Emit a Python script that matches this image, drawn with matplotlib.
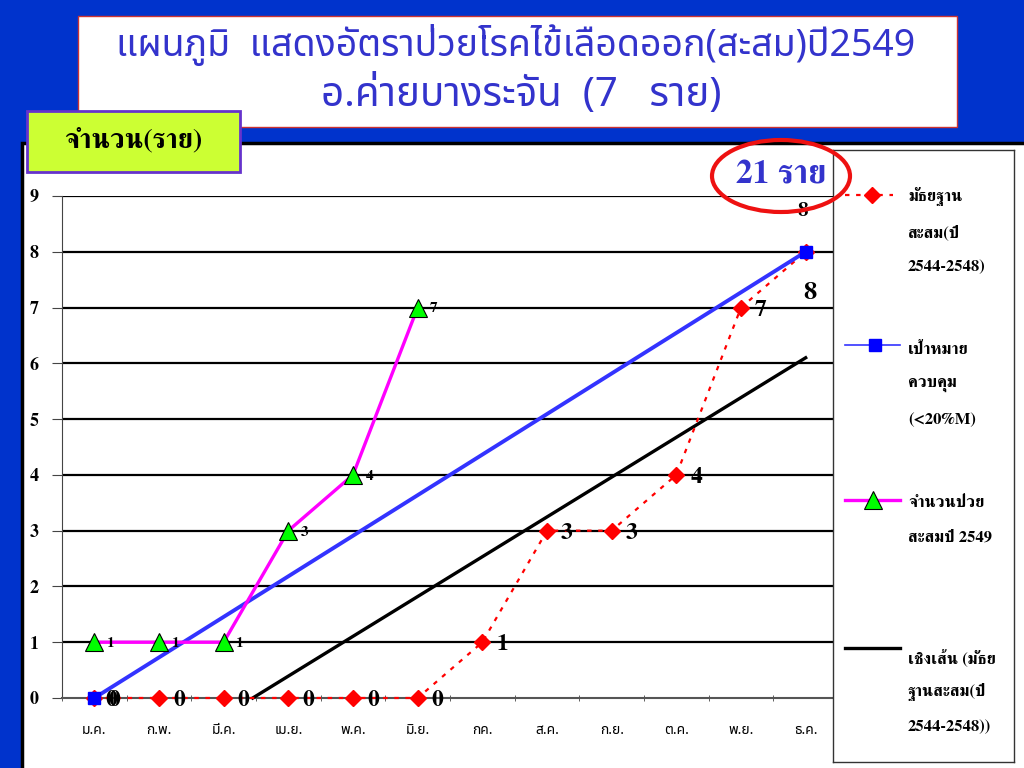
import matplotlib
matplotlib.use("Agg")
import matplotlib.pyplot as plt
from matplotlib.patches import Rectangle, Ellipse

months = ["ม.ค.", "ก.พ.", "มี.ค.", "เม.ย.", "พ.ค.", "มิ.ย.",
          "กค.", "ส.ค.", "ก.ย.", "ต.ค.", "พ.ย.", "ธ.ค."]
median_cum = [0, 0, 0, 0, 0, 0, 1, 3, 3, 4, 7, 8]   # มัธยฐานสะสม 2544-2548
target_idx = [0, 11]
target_val = [0, 8]                                # เป้าหมาย <20%M
cases_2549 = [1, 1, 1, 3, 4, 7]                    # ม.ค. - มิ.ย.
trend_x = [2.45, 11]
trend_y = [0, 6.1]

title_1 = "แผนภูมิ  แสดงอัตราป่วยโรคไข้เลือดออก(สะสม)ปี2549"
title_2 = "อ.ค่ายบางระจัน  (7   ราย)"
legend_text = [
    ["มัธยฐาน", "สะสม(ปี", "2544-2548)"],
    ["เป้าหมาย", "ควบคุม", "(<20%M)"],
    ["จำนวนป่วย", "สะสมปี 2549"],
    ["เชิงเส้น (มัธย", "ฐานสะสม(ปี", "2544-2548))"],
]

plt.rcParams["font.family"] = ["FreeSerif", "Liberation Serif", "DejaVu Sans"]
SANS_TH = ["Noto Sans Thai", "DejaVu Sans"]

BLUE_BG = "#0033cc"
TITLE_C = "#3333cc"


def fx(px):
    return px / 1024


def fy(py):
    return 1 - py / 768


fig = plt.figure(figsize=(10.24, 7.68), dpi=100, facecolor=BLUE_BG)

# white panel and title box
fig.patches.append(Rectangle((fx(22), -0.01), 1.0, fy(143) + 0.01, transform=fig.transFigure,
                             facecolor="white", edgecolor="black", lw=2.5, zorder=-5))
fig.patches.append(Rectangle((fx(78), fy(127)), fx(957) - fx(78), fy(16) - fy(127),
                             transform=fig.transFigure, facecolor="white",
                             edgecolor="#cc3333", lw=1, zorder=-4))
fig.text(fx(516), fy(45), title_1, ha="center", va="center", fontsize=27,
         color=TITLE_C, family=SANS_TH)
fig.text(fx(521), fy(96), title_2, ha="center", va="center", fontsize=29,
         color=TITLE_C, family=SANS_TH)

fig.patches.append(Rectangle((fx(27), fy(172)), fx(240) - fx(27), fy(111) - fy(172),
                             transform=fig.transFigure, facecolor="#ccff33",
                             edgecolor="#6633cc", lw=2, zorder=2))
fig.text(fx(133), fy(141), "จำนวน(ราย)", ha="center", va="center", fontsize=20,
         fontweight="bold", color="black", zorder=3)

# main axes
ax = fig.add_axes([fx(62), fy(698), fx(838) - fx(62), fy(196) - fy(698)])
ax.set_facecolor("white")
x = list(range(len(months)))
ax.set_xlim(-0.5, 11.5)
ax.set_ylim(0, 9)
ax.set_yticks(range(10))
ax.set_yticklabels([str(i) for i in range(10)], fontsize=13, fontweight="bold")
ax.set_xticks(x)
ax.set_xticklabels(months, fontsize=10, family=SANS_TH)
ax.set_xticks([i - 0.5 for i in range(13)], minor=True)
ax.tick_params(axis="x", which="major", length=0, pad=18)
ax.tick_params(axis="x", which="minor", length=4, direction="inout", color="#444444")
ax.tick_params(axis="y", length=7, pad=10, color="#444444")
for y in range(1, 10):
    ax.axhline(y, color="black", lw=1.6, zorder=1)
for s in ["top", "right"]:
    ax.spines[s].set_visible(False)
ax.spines["left"].set_color("#444444")
ax.spines["bottom"].set_color("#555555")
ax.spines["bottom"].set_linewidth(1.5)

ax.plot(trend_x, trend_y, color="black", lw=2.4, zorder=3, clip_on=False)
ax.plot(x, median_cum, color="red", lw=1.6, ls=(0, (2, 3)), marker="D",
        markersize=8, markerfacecolor="red", markeredgecolor="red", zorder=4,
        clip_on=False)
ax.plot(target_idx, target_val, color="#3333ff", lw=2.8, marker="s", markersize=8,
        markerfacecolor="#0000ff", markeredgecolor="#0000ff", zorder=5, clip_on=False)
ax.plot(x[:len(cases_2549)], cases_2549, color="#ff00ff", lw=2.4, marker="^",
        markersize=13, markerfacecolor="#00ff00", markeredgecolor="black",
        markeredgewidth=0.8, zorder=6, clip_on=False)

for i, v in enumerate(median_cum):
    if i == len(median_cum) - 1:
        ax.annotate(str(v), (i, v), xytext=(3, -30), textcoords="offset points",
                    ha="center", va="center", fontsize=19, fontweight="bold", zorder=7)
    else:
        ax.annotate(str(v), (i, v), xytext=(10, -2), textcoords="offset points",
                    ha="left", va="center", fontsize=17, fontweight="bold", zorder=7)
ax.annotate(str(target_val[0]), (target_idx[0], target_val[0]), xytext=(8, -2),
            textcoords="offset points", ha="left", va="center", fontsize=17,
            fontweight="bold", zorder=7)
ax.annotate(str(target_val[1]), (target_idx[1], target_val[1]), xytext=(-2, 29),
            textcoords="offset points", ha="center", va="center", fontsize=15,
            fontweight="bold", zorder=7)
for i, v in enumerate(cases_2549):
    ax.annotate(str(v), (i, v), xytext=(9, -1), textcoords="offset points",
                ha="left", va="center", fontsize=11, fontweight="bold", zorder=7)

# legend panel
lax = fig.add_axes([fx(833), fy(762), fx(1014) - fx(833), fy(150) - fy(762)])
lax.set_xlim(833, 1014)
lax.set_ylim(762, 150)
lax.set_xticks([])
lax.set_yticks([])
lax.set_facecolor("white")
for s in lax.spines.values():
    s.set_color("#333333")
    s.set_linewidth(1)

key_y = [195, 345, 500, 648]
lax.plot([845, 893], [key_y[0]] * 2, color="red", lw=1.6, ls=(0, (2, 3)))
lax.plot([872], [key_y[0]], marker="D", markersize=8, color="red")
lax.plot([845, 900], [key_y[1]] * 2, color="#3333ff", lw=1.2)
lax.plot([875], [key_y[1]], marker="s", markersize=8, color="#0000ff")
lax.plot([845, 900], [key_y[2]] * 2, color="#ff00ff", lw=2.4)
lax.plot([873], [key_y[2]], marker="^", markersize=13, markerfacecolor="#00ff00",
         markeredgecolor="black", markeredgewidth=0.8)
lax.plot([845, 900], [key_y[3]] * 2, color="black", lw=2.4)

text_y0 = [197, 350, 503, 657]
for lines, y0 in zip(legend_text, text_y0):
    for k, line in enumerate(lines):
        lax.text(908, y0 + 35 * k, line, ha="left", va="center", fontsize=12,
                 fontweight="bold")

# "21 ราย" callout
fig.text(fx(781), fy(175), "21 ราย", ha="center", va="center", fontsize=24,
         fontweight="bold", color=TITLE_C, zorder=10)
fig.patches.append(Ellipse((fx(781), fy(176)), fx(138), 72 / 768, transform=fig.transFigure,
                           fill=False, edgecolor="#ee1111", lw=3, zorder=11))

fig.savefig("out.png", dpi=100, facecolor=BLUE_BG)
